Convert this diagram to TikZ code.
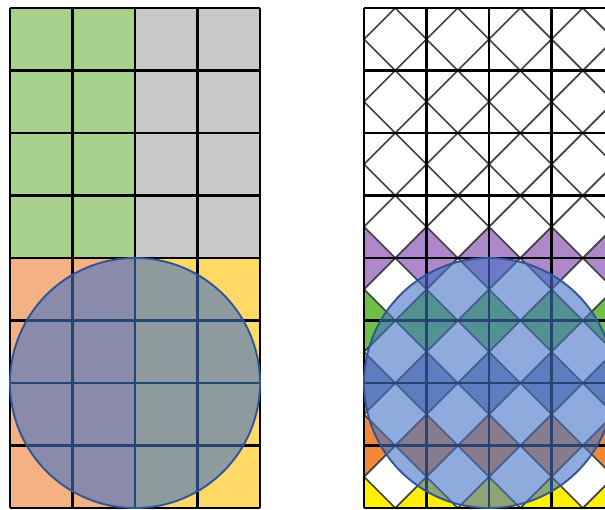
\documentclass[tikz,border=0pt]{standalone}
\definecolor{cgreen}{RGB}{169,209,142}
\definecolor{cgray}{RGB}{201,201,201}
\definecolor{corange}{RGB}{244,177,131}
\definecolor{cyellow}{RGB}{255,217,102}
\definecolor{dpurple}{RGB}{174,136,202}
\definecolor{dgreen}{RGB}{110,192,74}
\definecolor{dblue}{RGB}{132,142,184}
\definecolor{dorange}{RGB}{240,138,58}
\definecolor{dyellow}{RGB}{255,240,0}
\definecolor{disc}{RGB}{68,114,196}
\definecolor{discline}{RGB}{47,85,151}
\tikzset{
  gridline/.style={line width=1.6pt, black},
  diagline/.style={line width=1.2pt, black!75},
  disc/.style={draw=discline, line width=1.3pt, fill=disc, fill opacity=0.6}
}
\begin{document}
\begin{tikzpicture}[x=1.5cm, y=-1.5cm, line join=round]
 \useasboundingbox (-0.16,-0.128) rectangle (9.52,8.016);
 % left grid
 \fill [cgreen] (0,0) rectangle (2,4);
 \fill [cgray] (2,0) rectangle (4,4);
 \fill [corange] (0,4) rectangle (2,8);
 \fill [cyellow] (2,4) rectangle (4,8);
 \foreach \x in {0,...,4} \draw [gridline] (\x,0) -- (\x,8);
 \foreach \y in {0,...,8} \draw [gridline] (0,\y) -- (4,\y);
 \draw [disc] (2,6) circle (2);
 % right grid
 \begin{scope}[shift={(5.664,0)}]
 \clip (-0.2,-0.2) rectangle (3.856,8.2);
 \begin{scope}
  \clip (0,0) rectangle (4,8);
  \foreach \y/\c in {4/dpurple,5/dgreen,6/dblue,7/dorange,8/dyellow}{
    \foreach \x in {0,...,4}{
      \fill [\c] (\x-0.5,\y) -- (\x,\y-0.5) -- (\x+0.5,\y) -- (\x,\y+0.5) -- cycle;
    }
  }
 \end{scope}
 \foreach \y in {0,...,7}{
   \foreach \x in {0,...,3}{
     \draw [diagline] (\x,\y+0.5) -- (\x+0.5,\y) -- (\x+1,\y+0.5) -- (\x+0.5,\y+1) -- cycle;
   }
 }
 \foreach \x in {0,...,4} \draw [gridline] (\x,0) -- (\x,8);
 \foreach \y in {0,...,8} \draw [gridline] (0,\y) -- (4,\y);
 \draw [disc] (2,6) circle (2);
 \end{scope}
\end{tikzpicture}
\end{document}
